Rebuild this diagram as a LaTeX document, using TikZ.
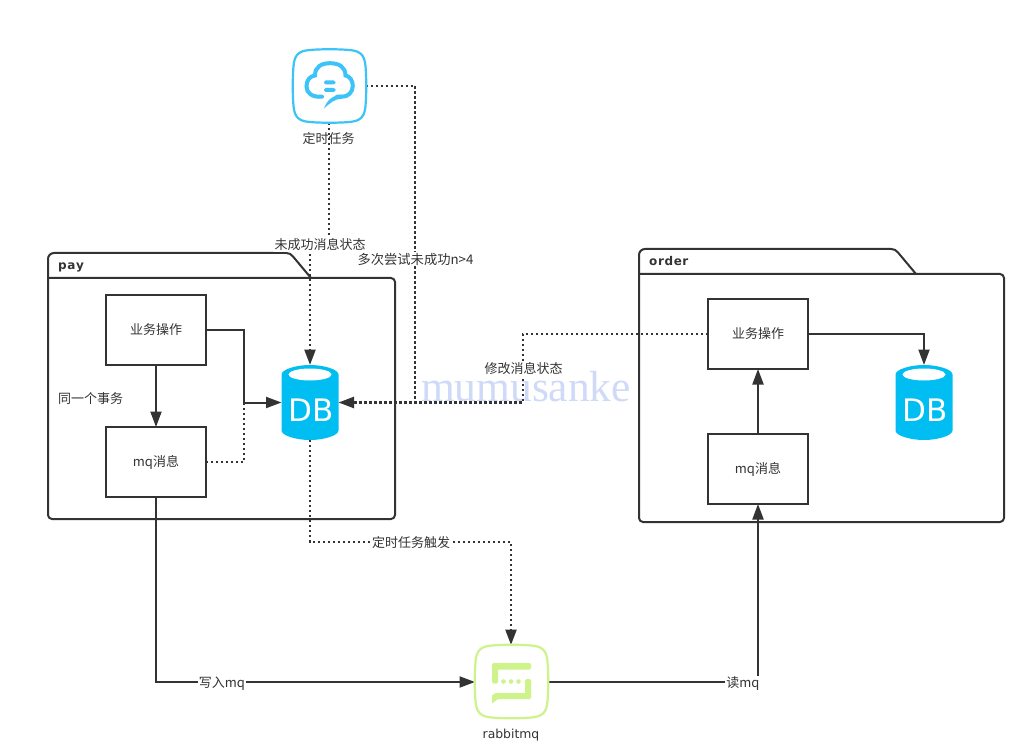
\documentclass[tikz,border=0pt]{standalone}
\usepackage{fontspec}
\setmainfont{DejaVu Sans}
\newfontfamily\cjk{Noto Sans CJK SC}
\newfontfamily\wmfont{Liberation Serif}
\usetikzlibrary{arrows.meta,calc}
\definecolor{ink}{HTML}{333333}
\definecolor{dbblue}{HTML}{00BEF2}
\definecolor{iconblue}{HTML}{3CC3F7}
\definecolor{icongreen}{HTML}{CDF38A}
\definecolor{wm}{HTML}{CFDAF8}
\tikzset{
  x=1pt,y=-1pt,
  folder/.style={draw=ink,line width=2pt,line join=round},
  bx/.style={draw=ink,line width=2pt,fill=white,minimum width=100pt,minimum height=70pt,inner sep=0pt,outer sep=0pt,font=\cjk\fontsize{13}{13}\selectfont,text=ink},
  slot/.style={inner sep=0pt,outer sep=0pt,minimum width=#1},
  solidc/.style={draw=ink,line width=2pt,-{Triangle[length=15.5pt,width=11pt]},line join=miter},
  dotc/.style={draw=ink,line width=2.4pt,dash pattern=on 2.2pt off 2.8pt,-{Triangle[length=15.5pt,width=11pt,sep=0pt]}},
  dotplain/.style={draw=ink,line width=2.4pt,dash pattern=on 2.2pt off 2.8pt},
  lbl/.style={fill=white,inner sep=1pt,text=ink,font=\cjk\fontsize{13}{13}\selectfont},
  plainlbl/.style={inner sep=0pt,text=ink,font=\cjk\fontsize{13}{13}\selectfont},
  dbtext/.style={text=white,font=\fontsize{31}{31}\selectfont,inner sep=0pt},
}
\newcommand{\DBshape}[1]{%
  \fill[dbblue] ($(#1)+(-28.5,-28)$) -- ($(#1)+(-28.5,28)$)
    .. controls ($(#1)+(-28.5,33)$) and ($(#1)+(-14,37.5)$) .. ($(#1)+(0,37.5)$)
    .. controls ($(#1)+(14,37.5)$) and ($(#1)+(28.5,33)$) .. ($(#1)+(28.5,28)$)
    -- ($(#1)+(28.5,-28)$)
    .. controls ($(#1)+(28.5,-33)$) and ($(#1)+(14,-37.5)$) .. ($(#1)+(0,-37.5)$)
    .. controls ($(#1)+(-14,-37.5)$) and ($(#1)+(-28.5,-33)$) .. ($(#1)+(-28.5,-28)$) -- cycle;
  \fill[white] ($(#1)+(0,-28)$) ellipse [x radius=21.5,y radius=6];
}
\newcommand{\Squircle}[2]{%
  \draw[#2,line width=2.2pt] ($(#1)+(-20,-36)$)
    .. controls ($(#1)+(-8,-37)$) and ($(#1)+(8,-37)$) .. ($(#1)+(20,-36)$)
    .. controls ($(#1)+(31,-35)$) and ($(#1)+(35,-31)$) .. ($(#1)+(36,-20)$)
    .. controls ($(#1)+(37,-8)$) and ($(#1)+(37,8)$) .. ($(#1)+(36,20)$)
    .. controls ($(#1)+(35,31)$) and ($(#1)+(31,35)$) .. ($(#1)+(20,36)$)
    .. controls ($(#1)+(8,37)$) and ($(#1)+(-8,37)$) .. ($(#1)+(-20,36)$)
    .. controls ($(#1)+(-31,35)$) and ($(#1)+(-35,31)$) .. ($(#1)+(-36,20)$)
    .. controls ($(#1)+(-37,8)$) and ($(#1)+(-37,-8)$) .. ($(#1)+(-36,-20)$)
    .. controls ($(#1)+(-35,-31)$) and ($(#1)+(-31,-35)$) .. ($(#1)+(-20,-36)$) -- cycle;
}
\begin{document}
\begin{tikzpicture}
\fill[white] (0,0) rectangle (1036,751);
\useasboundingbox (0,0) rectangle (1036,751);

% folders
\draw[folder] (48,278) -- (48,259) arc[start angle=180,end angle=270,radius=6] -- (286,253)
  .. controls (289,253) and (291,254) .. (293,256.5) -- (311,278);
\draw[folder,rounded corners=4pt] (48,278) -- (48,519) -- (395,519) -- (395,278) -- (48,278);
\node[anchor=base west,inner sep=0pt,text=ink,font=\bfseries\fontsize{12}{12}\selectfont] (paytitle) at (58,270) {p\kern.6pt a\kern.6pt y};
\draw[folder] (639,274) -- (639,255) arc[start angle=180,end angle=270,radius=6] -- (891,249)
  .. controls (894,249) and (896,250) .. (898,252.5) -- (916,274);
\draw[folder,rounded corners=4pt] (639,274) -- (639,522) -- (1004,522) -- (1004,274) -- (639,274);
\node[anchor=base west,inner sep=0pt,text=ink,font=\bfseries\fontsize{12}{12}\selectfont] (ordertitle) at (649,266) {o\kern.6pt r\kern.6pt d\kern.6pt e\kern.6pt r};

% watermark
\node[inner sep=0pt,text=wm,font=\wmfont\fontsize{43.4}{43}\selectfont] (wmark) at (526,387) {mumusanke};

% anchors of icons
\node[slot=73pt,minimum height=74pt] (task) at (329,86) {};
\node[slot=73pt,minimum height=73pt] (rabbit) at (511.5,681.5) {};
\node[slot=57pt,minimum height=75pt] (dbpay) at (310,402.5) {};
\node[slot=57pt,minimum height=75pt] (dborder) at (924,402.5) {};

% boxes
\node[bx] (payop) at (156,330) {\raisebox{-1pt}{业务操作}};
\node[bx] (paymq) at (156,462) {\raisebox{-1pt}{mq消息}};
\node[bx] (orderop) at (758,334) {\raisebox{-1pt}{业务操作}};
\node[bx] (ordermq) at (758,469) {\raisebox{-1pt}{mq消息}};

% junctions
\coordinate (jA) at (244,402.5);
\coordinate (jB) at (329,244);
\coordinate (jC) at (415,86);
\coordinate (jD) at (415,402.5);
\coordinate (jE) at (523,334);
\coordinate (jF) at (523,402.5);
\coordinate (jG) at (310,542);
\coordinate (jH) at (511,542);
\coordinate (jI) at (156,682);

% connectors
\draw[solidc] (payop.south) -- (paymq.north);
\draw[dotplain] (paymq.east) -| (jA);
\draw[solidc] (payop.east) -| (jA) -- (dbpay.west);
\draw[dotc] (task.south) -- (jB) -| (dbpay.north);
\draw[dotplain] (task.east) -- (jC) -- (jD);
\draw[dotc] (orderop.west) -- (jE) -- (jF) -- (dbpay.east);
\draw[dotc] (dbpay.south) -- (jG) -- (jH) -- (jH|-rabbit.north);
\draw[solidc] (paymq.south) -- (jI) -- (jI-|rabbit.west);
\draw[solidc] (rabbit.east) -- (rabbit.east-|ordermq.south) -- (ordermq.south);
\draw[solidc] (ordermq.north) -- (orderop.south);
\draw[solidc] (orderop.east) -| (dborder.north);

% connector labels
\node[lbl] (l1) at (320,245) {未成功消息状态};
\node[lbl,font=\cjk\fontsize{13.3}{13}\selectfont] (l2) at (415.5,259) {多次尝试未成功n>4};
\node[lbl] (l3) at (523.5,369) {修改消息状态};
\node[lbl] (l4) at (411,543) {定时任务触发};
\node[lbl] (l5) at (222,683.5) {写入mq};
\node[lbl] (l6) at (743,683.5) {读mq};
\node[plainlbl] (l7) at (90.5,399) {同一个事务};

% DB
\DBshape{dbpay}
\node[dbtext] (dbt1) at (311,410) {DB};
\DBshape{dborder}
\node[dbtext] (dbt2) at (925.5,410) {DB};

% task icon
\Squircle{329.5,86}{iconblue}
\draw[iconblue,line width=4pt,line cap=round] (322,96.7)
  .. controls (312,97.5) and (306.5,93) .. (306.5,86.5)
  .. controls (306.5,80) and (310,76) .. (315,75.5)
  .. controls (315,67) and (321,63.2) .. (330,63.2)
  .. controls (339,63.2) and (345.5,67) .. (345.5,75.5)
  .. controls (350,76) and (352.8,81) .. (352.8,86)
  .. controls (352.8,92) and (348,97) .. (342,96.7)
  -- (337,96.7);
\fill[iconblue] (324,108.5) .. controls (327,100) and (333,95) .. (342,94.7) -- (342,98.7)
  .. controls (335,98.7) and (330,103) .. (324,108.5) -- cycle;
\fill[iconblue,rounded corners=1.6pt] (324,80.5) rectangle (335.5,84.5);
\fill[iconblue,rounded corners=1.6pt] (324,88) rectangle (335.5,92);
\node[plainlbl] (tasklabel) at (328.5,139) {定时任务};

% rabbit icon
\Squircle{rabbit}{icongreen}
\fill[icongreen,rounded corners=1.5pt] (492,663) rectangle (531,669.5);
\fill[icongreen,rounded corners=1.5pt] (492,663) rectangle (498,683.5);
\fill[icongreen,rounded corners=1.5pt] (525,679) rectangle (531,699);
\fill[icongreen,rounded corners=1.5pt] (494,693) rectangle (531,699);
\fill[icongreen] (492,703.5) -- (492,695) -- (498,693) -- (498,699) -- cycle;
\fill[icongreen] (503.5,681.5) circle (2.3);
\fill[icongreen] (511,681.5) circle (2.3);
\fill[icongreen] (518.5,681.5) circle (2.3);
\node[inner sep=0pt,text=ink,font=\fontsize{12.4}{12}\selectfont] (rabbitlabel) at (511,735.5) {rabbitmq};
\end{tikzpicture}
\end{document}
